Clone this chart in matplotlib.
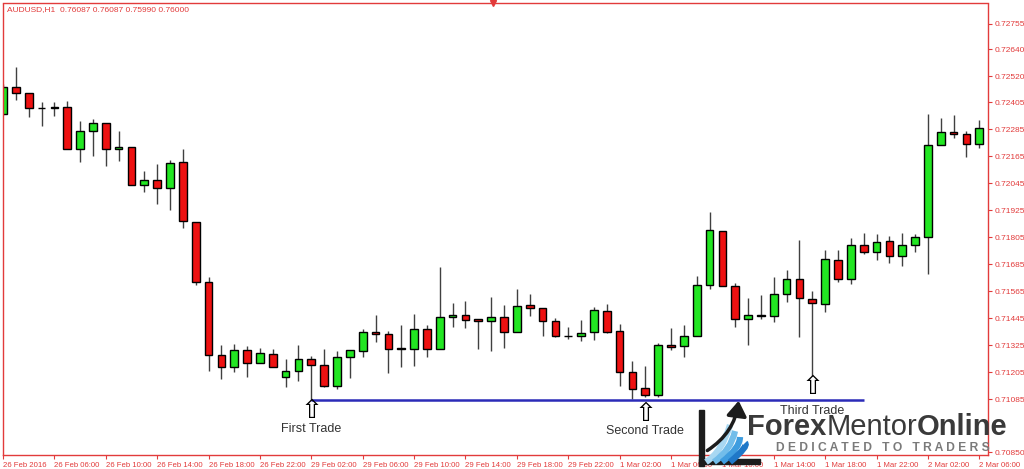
import matplotlib.pyplot as plt
from matplotlib.path import Path
from matplotlib.patches import PathPatch, Rectangle, FancyArrowPatch
import numpy as np

plt.rcParams['font.family'] = ['Liberation Sans', 'DejaVu Sans']

# AUDUSD H1 candles, 26 Feb 2016 02:00 .. 2 Mar 2016 06:00
opens = [0.72353, 0.72472, 0.72445, 0.72380, 0.72379, 0.72384, 0.72196, 0.72278, 0.72312, 0.72196,
         0.72207, 0.72036, 0.72061, 0.72026, 0.72139, 0.71872, 0.71605, 0.71284, 0.71228, 0.71304,
         0.71245, 0.71288, 0.71183, 0.71212, 0.71263, 0.71238, 0.71146, 0.71272, 0.71301, 0.71384,
         0.71377, 0.71311, 0.71308, 0.71398, 0.71308, 0.71451, 0.71459, 0.71441, 0.71433, 0.71451,
         0.71383, 0.71506, 0.71491, 0.71433, 0.71366, 0.71365, 0.71383, 0.71477, 0.71388, 0.71205,
         0.71134, 0.71106, 0.71328, 0.71322, 0.71365, 0.71592, 0.71833, 0.71588, 0.71441, 0.71458,
         0.71457, 0.71552, 0.71619, 0.71530, 0.71509, 0.71703, 0.71619, 0.71770, 0.71740, 0.71789,
         0.71724, 0.71772, 0.71805, 0.72214, 0.72275, 0.72263, 0.72221]
highs = [0.72487, 0.72561, 0.72445, 0.72407, 0.72407, 0.72410, 0.72322, 0.72330, 0.72313, 0.72279,
         0.72207, 0.72100, 0.72130, 0.72149, 0.72198, 0.71872, 0.71628, 0.71327, 0.71331, 0.71322,
         0.71313, 0.71308, 0.71264, 0.71327, 0.71278, 0.71310, 0.71300, 0.71303, 0.71398, 0.71460,
         0.71389, 0.71417, 0.71464, 0.71417, 0.71673, 0.71513, 0.71524, 0.71441, 0.71541, 0.71506,
         0.71577, 0.71552, 0.71491, 0.71445, 0.71408, 0.71438, 0.71496, 0.71509, 0.71420, 0.71257,
         0.71233, 0.71334, 0.71404, 0.71417, 0.71632, 0.71916, 0.71833, 0.71602, 0.71536, 0.71549,
         0.71628, 0.71659, 0.71792, 0.71567, 0.71749, 0.71749, 0.71804, 0.71823, 0.71819, 0.71811,
         0.71823, 0.71819, 0.72353, 0.72336, 0.72350, 0.72279, 0.72325]
lows = [0.72350, 0.72416, 0.72339, 0.72301, 0.72344, 0.72196, 0.72139, 0.72167, 0.72124, 0.72146,
        0.72036, 0.72005, 0.71952, 0.71928, 0.71847, 0.71593, 0.71212, 0.71177, 0.71205, 0.71186,
        0.71245, 0.71230, 0.71139, 0.71168, 0.71082, 0.71141, 0.71130, 0.71181, 0.71275, 0.71339,
        0.71201, 0.71230, 0.71233, 0.71275, 0.71308, 0.71408, 0.71404, 0.71309, 0.71301, 0.71312,
        0.71383, 0.71457, 0.71368, 0.71362, 0.71352, 0.71346, 0.71350, 0.71379, 0.71144, 0.71085,
        0.71097, 0.71094, 0.71306, 0.71275, 0.71365, 0.71574, 0.71588, 0.71408, 0.71325, 0.71441,
        0.71430, 0.71516, 0.71364, 0.71189, 0.71475, 0.71608, 0.71596, 0.71730, 0.71703, 0.71692,
        0.71679, 0.71741, 0.71644, 0.72214, 0.72245, 0.72164, 0.72204]
closes = [0.72472, 0.72445, 0.72379, 0.72379, 0.72384, 0.72196, 0.72278, 0.72312, 0.72196, 0.72207,
          0.72036, 0.72061, 0.72026, 0.72136, 0.71876, 0.71605, 0.71284, 0.71228, 0.71306, 0.71245,
          0.71291, 0.71230, 0.71210, 0.71264, 0.71236, 0.71146, 0.71273, 0.71303, 0.71384, 0.71377,
          0.71310, 0.71310, 0.71398, 0.71308, 0.71451, 0.71459, 0.71439, 0.71435, 0.71451, 0.71386,
          0.71501, 0.71490, 0.71433, 0.71365, 0.71365, 0.71379, 0.71481, 0.71386, 0.71208, 0.71132,
          0.71106, 0.71327, 0.71319, 0.71367, 0.71592, 0.71836, 0.71588, 0.71441, 0.71458, 0.71457,
          0.71552, 0.71619, 0.71534, 0.71512, 0.71708, 0.71619, 0.71770, 0.71740, 0.71786, 0.71724,
          0.71772, 0.71805, 0.72214, 0.72275, 0.72263, 0.72221, 0.72290]

time_labels = ['26 Feb 2016', '26 Feb 06:00', '26 Feb 10:00', '26 Feb 14:00', '26 Feb 18:00',
               '26 Feb 22:00', '29 Feb 02:00', '29 Feb 06:00', '29 Feb 10:00', '29 Feb 14:00',
               '29 Feb 18:00', '29 Feb 22:00', '1 Mar 02:00', '1 Mar 06:00', '1 Mar 10:00',
               '1 Mar 14:00', '1 Mar 18:00', '1 Mar 22:00', '2 Mar 02:00', '2 Mar 06:00']
price_ticks = [0.72755, 0.72640, 0.72520, 0.72405, 0.72285, 0.72165, 0.72045, 0.71925, 0.71805,
               0.71685, 0.71565, 0.71445, 0.71325, 0.71205, 0.71085, 0.70850]

trade_names = ['First Trade', 'Second Trade', 'Third Trade']
trade_bars = [24, 50, 63]
support_end = 67

RED = '#e23b3b'
W, H = 1024, 469
fig = plt.figure(figsize=(W / 100, H / 100), dpi=100)
fig.patch.set_facecolor('white')
ax = fig.add_axes([3 / W, 1 - 455 / H, 984.5 / W, 451.5 / H])

o = np.array(opens)
c = np.array(closes)
idx = np.arange(len(o))
body_col = np.where(c > o, '#22e622', '#ee1111')
body_col = np.where(np.abs(c - o) < 0.00002, 'black', body_col)

# wicks then bodies
ax.vlines(idx, lows, highs, color='#404040', lw=1, zorder=1)
ax.bar(idx, np.abs(c - o), bottom=np.minimum(o, c), width=0.6, color=body_col,
       edgecolor='black', linewidth=1, zorder=2)

# support line from the first trade low
ax.hlines(lows[trade_bars[0]], trade_bars[0], support_end, color='#2b2bb8', lw=1.8, zorder=3)

# trade arrows + labels
arrow_off = [-11, -17, -11]
text_off = [-29, -34, -35]
for name, b, ao, to in zip(trade_names, trade_bars, arrow_off, text_off):
    ax.annotate('\u21e7', xy=(b, lows[b]), xytext=(0, ao), textcoords='offset pixels',
                ha='center', va='center', fontsize=19, family='DejaVu Sans', color='black',
                zorder=5, annotation_clip=False)
    ax.annotate(name, xy=(b, lows[b]), xytext=(0, to), textcoords='offset pixels',
                ha='center', va='center', fontsize=9, color='#333333', zorder=6,
                annotation_clip=False)

ax.set_xlim(0, 76.64)
ax.set_ylim(0.708374, 0.728441)

ax.yaxis.tick_right()
ax.set_yticks(price_ticks)
ax.set_yticklabels(['%.5f' % p for p in price_ticks])
ax.set_xticks(idx[::4])
ax.set_xticklabels(time_labels)
for lbl in ax.get_xticklabels():
    lbl.set_horizontalalignment('left')
ax.tick_params(axis='y', colors=RED, labelsize=6, length=3, pad=2, width=0.8)
ax.tick_params(axis='x', colors=RED, labelsize=5.6, length=3, pad=2, width=0.8)
for s in ax.spines.values():
    s.set_color(RED)
    s.set_linewidth(1)

fig.text(7 / W, 1 - 10 / H, 'AUDUSD,H1  0.76087 0.76087 0.75990 0.76000',
         color=RED, fontsize=6, va='center', ha='left')
ax.plot([0.4977], [1.0], marker='v', ms=4, color=RED, transform=ax.transAxes, clip_on=False)

# logo overlay in pixel coordinates
lax = fig.add_axes([0, 0, 1, 1], zorder=10)
lax.set_xlim(0, W)
lax.set_ylim(H, 0)
lax.axis('off')
lax.patch.set_alpha(0)

lax.add_patch(Rectangle((699, 410), 5, 56, color='#1c1c1c'))
lax.add_patch(Rectangle((699, 459), 61, 5, color='#1c1c1c'))
blues = ['#a8d8f2', '#72bdea', '#3f9ddf', '#1f78c8']
for k, col in enumerate(blues):
    p0 = (706 + 8 * k, 462)
    p1 = (722 + 9 * k, 452 - 2 * k)
    p2 = (730 + 5 * k, 425 + 6 * k)
    lax.add_patch(PathPatch(Path([p0, p1, p2], [Path.MOVETO, Path.CURVE3, Path.CURVE3]),
                            fc='none', ec=col, lw=4.5))
lax.add_patch(FancyArrowPatch((705, 452), (739, 398), connectionstyle='arc3,rad=0.25',
                              arrowstyle='-|>,head_length=6,head_width=4', color='#1c1c1c',
                              lw=2.5, mutation_scale=1.5))

fig.canvas.draw()
r = fig.canvas.get_renderer()
x = 747
for word, wt in [('Forex', 'bold'), ('Mentor', 'normal'), ('Online', 'bold')]:
    t = lax.text(x, 435, word, fontsize=21, fontweight=wt, color='#3a3a3a',
                 ha='left', va='baseline')
    x += t.get_window_extent(r).width
lax.text(776, 451, 'D E D I C A T E D   T O   T R A D E R S', fontsize=8.7, fontweight='bold',
         color='#7a7a7a', ha='left', va='baseline')

fig.savefig('out.png', dpi=100)
